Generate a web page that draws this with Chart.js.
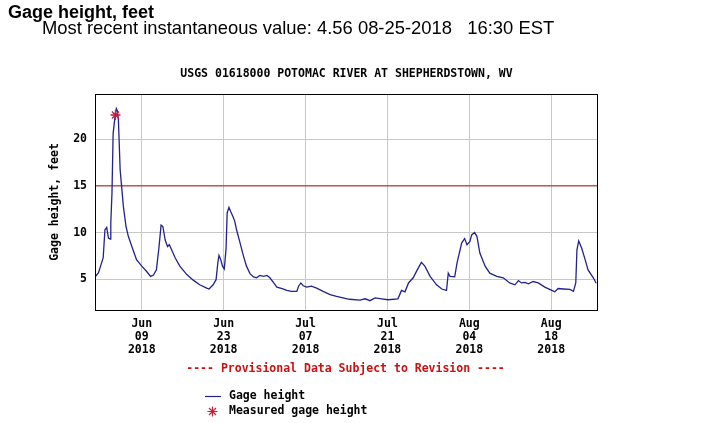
<!DOCTYPE html>
<html>
<head>
<meta charset="utf-8">
<title>Gage height, feet</title>
<script src="https://cdn.jsdelivr.net/npm/chart.js@4.4.1/dist/chart.umd.min.js"></script>
<style>
  body { margin: 0; background: #fff; }
  #wrap { position: relative; width: 713px; height: 423px; overflow: hidden; }
  #chart { position: absolute; left: 0; top: 0; }
  .head { position: absolute; font-family: "Liberation Sans", Arial, sans-serif; color: #000; white-space: pre; }
  #head-title { left: 8px; top: 3px; font-size: 18px; line-height: 18px; font-weight: bold; }
  #head-sub { left: 42px; top: 19px; font-size: 18.4px; line-height: 18.4px; }
</style>
</head>
<body>
<div id="wrap">
  <canvas id="chart" width="713" height="423"></canvas>
  <div class="head" id="head-title">Gage height, feet</div>
  <div class="head" id="head-sub">Most recent instantaneous value: 4.56 08-25-2018   16:30 EST</div>
</div>
<script>
// Days since Jun 01 2018 00:00 and gage height (feet)
const gageDays = [0, 0.6, 1.1, 1.4, 1.7, 2.0, 2.3, 2.6, 2.7, 2.9, 3.1, 3.5, 3.65, 3.8, 4.0, 4.3, 4.6, 4.85, 5.3, 5.7,
    6.3, 7.1, 8.0, 8.8, 9.5, 10.0, 10.5, 10.9, 11.3, 11.6, 12.0, 12.4, 12.7, 13.1, 13.7, 14.5, 15.7, 16.8, 17.9, 19.1,
    19.5, 20.2, 20.7, 21.0, 21.2, 21.5, 21.8, 22.1, 22.4, 22.6, 22.9, 23.2, 23.6, 23.9, 24.2, 24.8, 25.4, 25.9, 26.5, 27.1,
    27.6, 28.2, 28.8, 29.4, 29.9, 30.5, 31.1, 32.0, 32.8, 33.6, 34.5, 34.8, 35.2, 35.6, 36.2, 37.0, 37.9, 39.0, 40.2, 41.3,
    42.4, 43.5, 45.3, 46.2, 47.0, 47.9, 49.0, 50.1, 51.8, 52.4, 53.0, 53.6, 54.4, 55.1, 55.8, 56.4, 57.3, 58.4, 59.3, 60.1,
    60.4, 60.7, 61.5, 61.9, 62.7, 63.2, 63.6, 64.1, 64.4, 64.9, 65.3, 65.8, 66.7, 67.5, 68.7, 69.8, 70.9, 71.8, 72.4, 72.9,
    73.5, 74.1, 74.9, 75.8, 76.9, 78.1, 78.6, 79.2, 80.1, 81.2, 81.8, 82.2, 82.4, 82.7, 83.2, 83.8, 84.3, 85.2, 85.69];
const gageHeight = [5.24, 5.7, 6.7, 7.3, 10.3, 10.55, 9.4, 9.3, 11.0, 14.2, 20.6, 22.85, 23.3, 23.1, 22.1, 16.7, 14.6, 12.8, 10.65, 9.6,
    8.5, 7.1, 6.4, 5.85, 5.3, 5.45, 6.0, 8.2, 10.8, 10.65, 9.2, 8.5, 8.7, 8.15, 7.3, 6.4, 5.5, 4.9, 4.4, 4.05,
    3.95, 4.4, 4.95, 6.75, 7.55, 7.1, 6.4, 6.1, 8.2, 12.1, 12.7, 12.25, 11.7, 11.2, 10.3, 8.9, 7.45, 6.4, 5.6, 5.25,
    5.15, 5.4, 5.3, 5.4, 5.15, 4.65, 4.15, 4.0, 3.8, 3.7, 3.7, 4.25, 4.6, 4.3, 4.15, 4.25, 4.05, 3.7, 3.35, 3.15,
    3.0, 2.85, 2.75, 2.9, 2.7, 3.0, 2.9, 2.8, 2.9, 3.8, 3.65, 4.6, 5.15, 6.0, 6.8, 6.4, 5.3, 4.4, 3.95, 3.8,
    5.65, 5.3, 5.25, 6.75, 8.9, 9.35, 8.7, 9.05, 9.75, 10.0, 9.6, 7.8, 6.4, 5.65, 5.3, 5.15, 4.6, 4.4, 4.85, 4.6,
    4.65, 4.5, 4.75, 4.6, 4.15, 3.8, 3.65, 4.0, 3.95, 3.9, 3.7, 4.6, 8.15, 9.1, 8.35, 7.1, 6.0, 5.15, 4.56];

// Field measurement
const measuredDays = [3.5];
const measuredHeight = [22.6];

// Flood stage reference line
const floodStage = 15;

// Axis ticks
const yTicks = [5, 10, 15, 20];
const xTickDays = [8, 22, 36, 50, 64, 78];
const xTickLabels = [
    ['Jun', '09', '2018'],
    ['Jun', '23', '2018'],
    ['Jul', '07', '2018'],
    ['Jul', '21', '2018'],
    ['Aug', '04', '2018'],
    ['Aug', '18', '2018']
];

const chartTitle = 'USGS 01618000 POTOMAC RIVER AT SHEPHERDSTOWN, WV';
const monoFont = { family: '"DejaVu Sans Mono", monospace', size: 11.5, weight: 'bold' };
const monoCss = 'bold 11.5px "DejaVu Sans Mono", monospace';
const lineColor = '#22228f';
const starColor = '#c81e3c';

// Draws the title over the plot, the plot frame, the provisional note and the legend
const extrasPlugin = {
    id: 'extras',
    afterDraw(chart) {
        const { ctx, chartArea } = chart;
        ctx.save();
        ctx.strokeStyle = '#000';
        ctx.lineWidth = 1;
        ctx.strokeRect(Math.round(chartArea.left) + 0.5, Math.round(chartArea.top) + 0.5,
            Math.round(chartArea.right - chartArea.left) - 1, Math.round(chartArea.bottom - chartArea.top));

        ctx.font = monoCss;
        ctx.textBaseline = 'middle';
        ctx.textAlign = 'center';
        ctx.fillStyle = '#000';
        ctx.fillText(chartTitle, (chartArea.left + chartArea.right) / 2, 74);

        ctx.fillStyle = '#cc1111';
        ctx.fillText('---- Provisional Data Subject to Revision ----', 345.5, 369);

        // legend
        ctx.textAlign = 'left';
        ctx.fillStyle = '#000';
        const ds = chart.data.datasets;
        ctx.strokeStyle = ds[0].borderColor;
        ctx.lineWidth = 1.2;
        ctx.beginPath();
        ctx.moveTo(205, 396.5);
        ctx.lineTo(221, 396.5);
        ctx.stroke();
        ctx.fillText(ds[0].label, 229, 396);

        ctx.strokeStyle = ds[1].borderColor;
        ctx.lineWidth = 1.2;
        const cx = 212.5, cy = 411.5, r = 5;
        ctx.beginPath();
        ctx.moveTo(cx - r, cy); ctx.lineTo(cx + r, cy);
        ctx.moveTo(cx, cy - r); ctx.lineTo(cx, cy + r);
        ctx.moveTo(cx - r * 0.7, cy - r * 0.7); ctx.lineTo(cx + r * 0.7, cy + r * 0.7);
        ctx.moveTo(cx - r * 0.7, cy + r * 0.7); ctx.lineTo(cx + r * 0.7, cy - r * 0.7);
        ctx.stroke();
        ctx.fillText(ds[1].label, 229, 411);
        ctx.restore();
    }
};

const ctx = document.getElementById('chart').getContext('2d');

const gageChart = new Chart(ctx, {
    type: 'line',
    data: {
        datasets: [{
            label: 'Gage height',
            data: gageDays.map((d, i) => ({ x: d, y: gageHeight[i] })),
            borderColor: lineColor,
            borderWidth: 1.3,
            pointRadius: 0,
            tension: 0,
            order: 1
        }, {
            label: 'Measured gage height',
            type: 'scatter',
            data: measuredDays.map((d, i) => ({ x: d, y: measuredHeight[i] })),
            borderColor: starColor,
            backgroundColor: starColor,
            pointStyle: 'star',
            pointRadius: 5,
            borderWidth: 1.3,
            order: 0
        }, {
            label: 'Flood stage',
            data: [{ x: 0, y: floodStage }, { x: 86, y: floodStage }],
            borderColor: '#a01e1e',
            borderWidth: 1,
            pointRadius: 0,
            order: 2
        }]
    },
    options: {
        responsive: false,
        animation: false,
        layout: {
            padding: { top: 94, left: 42, right: 115, bottom: 0 }
        },
        plugins: {
            legend: { display: false },
            tooltip: { enabled: false },
            title: { display: false }
        },
        scales: {
            x: {
                type: 'linear',
                min: 0,
                max: 86,
                afterBuildTicks: (scale) => {
                    scale.ticks = xTickDays.map(v => ({ value: v }));
                },
                afterFit: (scale) => {
                    scale.height = 113;
                },
                ticks: {
                    color: '#000',
                    font: { ...monoFont, lineHeight: 1.12 },
                    padding: 8,
                    maxRotation: 0,
                    autoSkip: false,
                    callback: (value) => xTickLabels[xTickDays.indexOf(value)]
                },
                grid: { color: '#c8c8c8', drawTicks: false },
                border: { display: false }
            },
            y: {
                min: 1.7,
                max: 24.85,
                afterBuildTicks: (scale) => {
                    scale.ticks = yTicks.map(v => ({ value: v }));
                },
                afterFit: (scale) => {
                    scale.width = 53;
                },
                ticks: {
                    color: '#000',
                    font: monoFont,
                    padding: 8
                },
                grid: { color: '#c8c8c8', drawTicks: false },
                border: { display: false },
                title: {
                    display: true,
                    text: 'Gage height, feet',
                    color: '#000',
                    font: monoFont,
                    padding: { top: 6, bottom: 0 }
                }
            }
        }
    },
    plugins: [extrasPlugin]
});
</script>
</body>
</html>
